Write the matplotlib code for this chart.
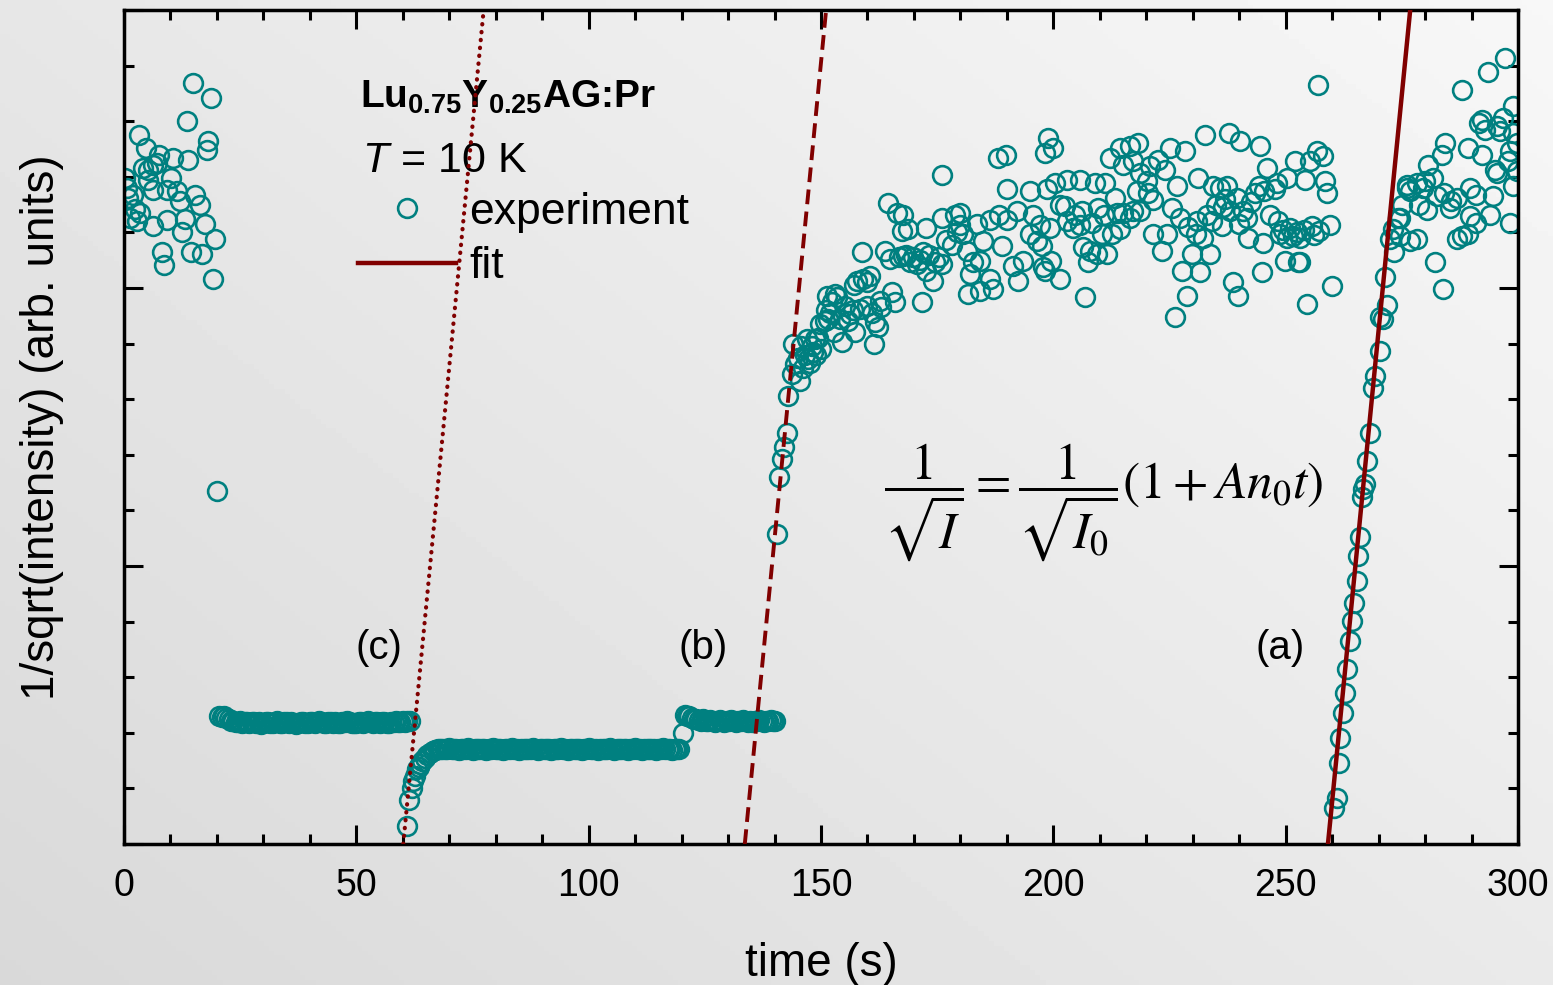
import numpy as np
import matplotlib.pyplot as plt
from matplotlib.lines import Line2D
from matplotlib.ticker import MultipleLocator

# ---------------- datos ----------------
# (c) antes de la serie: puntos dispersos t = 0..20 s
pre_c_t = [0.2, 0.6, 0.9, 1.3, 2.0, 2.4, 2.7, 3.3, 3.4, 4.0,
           4.7, 5.2, 5.2, 6.2, 6.3, 6.3, 7.2, 7.6, 8.1, 8.6,
           9.2, 9.2, 10.1, 10.6, 11.3, 12.1, 12.4, 13.1, 13.5, 13.8,
           14.4, 14.8, 15.3, 16.4, 16.7, 17.4, 17.8, 18.1, 18.7, 19.2,
           19.6, 20.0]
pre_c_y = [11.98, 11.80, 11.62, 11.26, 11.68, 11.42, 11.20, 12.76, 11.35, 12.16,
           12.51, 12.13, 11.95, 11.11, 12.22, 11.77, 12.25, 12.40, 10.64, 10.41,
           11.77, 11.22, 11.98, 12.34, 11.74, 11.56, 11.01, 11.24, 13.00, 12.30,
           10.64, 13.69, 11.68, 11.50, 10.62, 11.15, 12.49, 12.64, 13.42, 10.16,
           10.88, 6.35]

# (c) meseta
flat_c_t = [20.5, 21.0, 21.5, 22.0, 22.5, 23.0, 23.5, 24.0, 24.5, 25.0,
            25.5, 26.0, 26.5, 27.0, 27.5, 28.0, 28.5, 29.0, 29.5, 30.0,
            30.5, 31.0, 31.5, 32.0, 32.5, 33.0, 33.5, 34.0, 34.5, 35.0,
            35.5, 36.0, 36.5, 37.0, 37.5, 38.0, 38.5, 39.0, 39.5, 40.0,
            40.5, 41.0, 41.5, 42.0, 42.5, 43.0, 43.5, 44.0, 44.5, 45.0,
            45.5, 46.0, 46.5, 47.0, 47.5, 48.0, 48.5, 49.0, 49.5, 50.0,
            50.5, 51.0, 51.5, 52.0, 52.5, 53.0, 53.5, 54.0, 54.5, 55.0,
            55.5, 56.0, 56.5, 57.0, 57.5, 58.0, 58.5, 59.0, 59.5, 60.0,
            60.5, 61.0, 61.5]
flat_c_y = [2.30, 2.29, 2.30, 2.27, 2.25, 2.22, 2.21, 2.20, 2.19, 2.21,
            2.18, 2.20, 2.19, 2.17, 2.19, 2.20, 2.18, 2.19, 2.16, 2.18,
            2.20, 2.19, 2.18, 2.17, 2.19, 2.21, 2.18, 2.17, 2.19, 2.20,
            2.18, 2.19, 2.17, 2.16, 2.18, 2.20, 2.19, 2.18, 2.17, 2.19,
            2.20, 2.18, 2.19, 2.21, 2.19, 2.18, 2.17, 2.19, 2.20, 2.18,
            2.19, 2.18, 2.17, 2.19, 2.20, 2.21, 2.19, 2.18, 2.17, 2.18,
            2.19, 2.20, 2.18, 2.19, 2.21, 2.19, 2.18, 2.20, 2.19, 2.18,
            2.19, 2.20, 2.18, 2.17, 2.19, 2.20, 2.21, 2.19, 2.20, 2.21,
            2.20, 2.22, 2.21]

# (b) subida inicial y meseta baja
rise_b_t = [60.8, 61.4, 61.9, 62.3, 62.6, 63.0, 63.4, 63.7, 64.2, 64.8,
            65.3, 65.9, 66.5, 67.0, 67.6]
rise_b_y = [0.32, 0.79, 1.01, 1.13, 1.22, 1.34, 1.39, 1.43, 1.50, 1.55,
            1.60, 1.64, 1.67, 1.69, 1.70]

flat_b_t = [68.0, 68.5, 69.0, 69.5, 70.0, 70.5, 71.0, 71.5, 72.0, 72.5,
            73.0, 73.5, 74.0, 74.5, 75.0, 75.5, 76.0, 76.5, 77.0, 77.5,
            78.0, 78.5, 79.0, 79.5, 80.0, 80.5, 81.0, 81.5, 82.0, 82.5,
            83.0, 83.5, 84.0, 84.5, 85.0, 85.5, 86.0, 86.5, 87.0, 87.5,
            88.0, 88.5, 89.0, 89.5, 90.0, 90.5, 91.0, 91.5, 92.0, 92.5,
            93.0, 93.5, 94.0, 94.5, 95.0, 95.5, 96.0, 96.5, 97.0, 97.5,
            98.0, 98.5, 99.0, 99.5, 100.0, 100.5, 101.0, 101.5, 102.0, 102.5,
            103.0, 103.5, 104.0, 104.5, 105.0, 105.5, 106.0, 106.5, 107.0, 107.5,
            108.0, 108.5, 109.0, 109.5, 110.0, 110.5, 111.0, 111.5, 112.0, 112.5,
            113.0, 113.5, 114.0, 114.5, 115.0, 115.5, 116.0, 116.5, 117.0, 117.5,
            118.0, 118.5, 119.0, 119.5]
flat_b_y = [1.70, 1.71, 1.70, 1.71, 1.72, 1.70, 1.71, 1.70, 1.69, 1.71,
            1.70, 1.71, 1.72, 1.70, 1.69, 1.70, 1.71, 1.70, 1.71, 1.70,
            1.69, 1.70, 1.71, 1.72, 1.70, 1.71, 1.70, 1.69, 1.70, 1.71,
            1.70, 1.72, 1.71, 1.70, 1.69, 1.70, 1.71, 1.70, 1.70, 1.71,
            1.72, 1.70, 1.69, 1.70, 1.71, 1.70, 1.71, 1.70, 1.69, 1.70,
            1.71, 1.70, 1.72, 1.71, 1.70, 1.69, 1.70, 1.71, 1.70, 1.71,
            1.70, 1.69, 1.70, 1.71, 1.72, 1.70, 1.71, 1.70, 1.69, 1.70,
            1.71, 1.70, 1.71, 1.72, 1.70, 1.69, 1.70, 1.71, 1.70, 1.71,
            1.70, 1.69, 1.71, 1.70, 1.72, 1.71, 1.70, 1.69, 1.70, 1.71,
            1.70, 1.71, 1.70, 1.69, 1.70, 1.71, 1.72, 1.70, 1.71, 1.70,
            1.69, 1.70, 1.71, 1.70]

# (b) meseta alta
high_b_t = [120.3, 120.7, 121.2, 121.7, 122.2, 122.7, 123.2, 123.7, 124.2, 124.7,
            125.2, 125.7, 126.2, 126.7, 127.2, 127.7, 128.2, 128.7, 129.2, 129.7,
            130.2, 130.7, 131.2, 131.7, 132.2, 132.7, 133.2, 133.7, 134.2, 134.7,
            135.2, 135.7, 136.2, 136.7, 137.2, 137.7, 138.2, 138.7, 139.2, 139.7,
            140.1]
high_b_y = [2.00, 2.32, 2.31, 2.30, 2.27, 2.25, 2.24, 2.23, 2.22, 2.24,
            2.22, 2.21, 2.23, 2.22, 2.20, 2.22, 2.23, 2.21, 2.19, 2.22,
            2.21, 2.23, 2.22, 2.20, 2.21, 2.22, 2.23, 2.21, 2.20, 2.22,
            2.19, 2.21, 2.22, 2.23, 2.21, 2.20, 2.22, 2.21, 2.23, 2.22,
            2.21]

# (a) antes: subida rapida y zona ruidosa t = 140..260 s  (t, y)
noisy_a = [
    (140.5, 5.57), (141.0, 6.60), (141.5, 6.92), (142.0, 7.14), (142.6, 7.40),
    (143.0, 8.06), (143.7, 8.45), (144.0, 9.00), (144.4, 8.63), (145.5, 8.33),
    (145.0, 8.75), (145.8, 8.95), (146.2, 8.57), (146.5, 8.80), (146.9, 9.08),
    (147.2, 8.72), (147.6, 8.66), (148.0, 8.95), (148.3, 8.85), (148.7, 9.08),
    (149.0, 8.80), (149.4, 9.10), (149.8, 9.35), (150.1, 8.90), (150.8, 9.40),
    (151.0, 9.60), (151.2, 9.86), (151.6, 9.44), (152.0, 9.55), (152.3, 9.75),
    (152.7, 9.20), (153.0, 9.90), (153.4, 9.83), (154.0, 9.45), (154.5, 9.02),
    (155.2, 9.68), (155.8, 9.40), (156.2, 9.53), (156.8, 9.60), (157.0, 10.05),
    (157.3, 9.20), (157.7, 10.13), (158.4, 9.62), (158.8, 10.64), (159.1, 10.16),
    (159.8, 9.68), (160.0, 10.10), (160.5, 10.22), (161.0, 9.55), (161.3, 8.99),
    (161.6, 9.38), (162.2, 9.30), (162.7, 9.77), (163.0, 9.65), (163.8, 10.67),
    (164.5, 11.53), (164.8, 10.52), (165.2, 9.92), (165.9, 9.74), (166.3, 11.35),
    (166.8, 10.55), (167.4, 11.02), (167.7, 11.32), (167.7, 10.58), (168.3, 10.60),
    (168.8, 11.06), (169.2, 10.46), (169.8, 10.55), (170.6, 10.43), (171.2, 10.50),
    (171.7, 9.74), (172.0, 10.64), (172.7, 10.31), (172.7, 11.08), (173.3, 10.60),
    (174.2, 10.13), (174.5, 10.46), (175.3, 10.55), (176.0, 10.43), (176.0, 11.26),
    (176.0, 12.03), (177.0, 10.86), (178.1, 10.78), (178.8, 11.32), (179.2, 11.00),
    (179.9, 11.14), (180.0, 11.35), (180.6, 10.97), (181.4, 10.67), (181.7, 9.89),
    (182.1, 10.25), (182.8, 10.46), (183.5, 11.15), (184.2, 10.49), (184.2, 9.95),
    (184.9, 10.85), (186.4, 10.16), (186.4, 11.23), (187.1, 9.98), (188.1, 12.34),
    (188.2, 11.32), (188.9, 10.76), (189.9, 12.39), (190.0, 11.23), (190.0, 11.78),
    (191.4, 10.40), (192.1, 11.38), (192.5, 10.13), (193.5, 10.49), (195.0, 11.74),
    (195.0, 10.97), (195.7, 11.32), (196.4, 10.85), (197.8, 10.37), (198.9, 12.70),
    (200.0, 12.52), (198.2, 12.43), (212.2, 12.34), (214.3, 12.52), (216.5, 12.55),
    (218.3, 12.61), (215.1, 12.22), (217.2, 12.28), (220.8, 12.19), (222.6, 12.31),
    (224.0, 12.13), (225.1, 12.52), (228.3, 12.46), (232.6, 12.76), (237.7, 12.79),
    (240.2, 12.64), (244.5, 12.55), (245.9, 12.16), (252.0, 12.28), (255.2, 12.28),
    (256.7, 12.46), (258.1, 12.37), (218.6, 12.07), (220.1, 11.92), (217.9, 11.74),
    (220.4, 11.71), (221.5, 11.59), (218.6, 11.38), (217.2, 11.38), (216.5, 11.26),
    (213.3, 11.62), (211.1, 11.89), (209.0, 11.89), (205.7, 11.95), (202.9, 11.95),
    (200.4, 11.89), (198.6, 11.78), (201.4, 11.50), (202.5, 11.47), (204.7, 11.32),
    (206.1, 11.38), (209.7, 11.44), (210.8, 11.32), (213.6, 11.35), (215.1, 11.35),
    (202.9, 11.21), (204.3, 11.08), (205.7, 11.14), (208.3, 11.17), (210.4, 10.97),
    (212.6, 10.97), (214.3, 11.06), (197.1, 11.14), (199.3, 11.08), (197.5, 10.76),
    (199.6, 10.49), (198.2, 10.31), (201.4, 10.16), (206.4, 10.73), (207.9, 10.67),
    (209.3, 10.61), (211.5, 10.61), (207.5, 10.46), (206.8, 9.83), (221.5, 10.97),
    (223.3, 10.67), (224.4, 10.97), (225.5, 11.44), (227.3, 11.26), (226.6, 11.83),
    (229.0, 11.10), (231.0, 11.20), (231.2, 11.98), (234.4, 11.83), (235.0, 11.50),
    (235.8, 11.80), (236.5, 11.45), (237.0, 11.60), (237.3, 11.83), (239.5, 11.62),
    (238.0, 11.38), (240.0, 11.15), (240.9, 11.38), (241.6, 11.26), (242.5, 11.55),
    (243.5, 11.70), (244.2, 11.83), (245.3, 11.74), (248.1, 11.89), (247.7, 11.78),
    (250.2, 11.98), (254.2, 11.95), (258.5, 11.92), (258.8, 11.71), (233.0, 11.32),
    (234.1, 11.21), (236.2, 11.11), (230.8, 10.97), (232.3, 10.90), (233.7, 10.61),
    (231.5, 10.28), (229.8, 10.61), (227.6, 10.31), (228.8, 9.86), (226.2, 9.47),
    (238.7, 10.10), (239.8, 9.86), (242.0, 10.90), (245.2, 10.81), (246.6, 11.32),
    (248.4, 11.21), (248.8, 10.97), (249.5, 11.05), (250.2, 10.90), (251.0, 11.08),
    (251.6, 10.94), (252.5, 11.00), (253.1, 10.90), (254.0, 11.05), (255.6, 11.11),
    (256.0, 10.95), (257.1, 11.03), (259.6, 11.14), (249.9, 10.49), (252.7, 10.46),
    (244.9, 10.28), (254.5, 9.71), (259.9, 10.04), (257.0, 13.66), (253.1, 10.46),
]

# (a) subida rapida t = 260..272 s
rise_a = [
    (260.3, 0.65), (261.0, 0.83), (261.4, 1.46), (261.8, 1.91), (262.4, 2.36),
    (262.8, 2.72), (263.3, 3.14), (263.8, 3.65), (264.2, 4.01), (264.8, 4.34),
    (265.3, 4.73), (265.6, 5.18), (266.0, 5.52), (266.5, 6.25), (266.7, 6.38),
    (267.1, 6.47), (267.6, 6.89), (268.2, 7.40), (268.7, 8.21), (269.2, 8.42),
    (270.3, 8.87), (270.3, 9.47), (271.0, 9.44), (271.9, 9.69), (271.4, 10.19),
]

# (a) zona ruidosa t = 272..300 s
noisy_end = [
    (297.2, 14.13), (293.6, 13.89), (287.9, 13.57), (299.0, 13.27), (292.2, 13.03),
    (291.5, 12.97), (293.0, 12.85), (295.4, 12.91), (296.8, 13.06), (296.1, 12.82),
    (299.0, 12.79), (284.3, 12.61), (283.6, 12.40), (289.3, 12.52), (292.2, 12.40),
    (298.3, 12.46), (297.9, 12.28), (280.7, 12.22), (295.1, 12.13), (295.4, 12.07),
    (299.0, 11.83), (281.8, 11.98), (280.0, 11.92), (278.2, 11.89), (276.1, 11.86),
    (279.6, 11.80), (276.7, 11.74), (275.0, 11.50), (278.6, 11.50), (280.4, 11.41),
    (282.6, 11.65), (284.0, 11.71), (285.5, 11.56), (286.9, 11.62), (289.7, 11.80),
    (290.9, 11.68), (294.7, 11.65), (285.4, 11.44), (289.7, 11.29), (290.9, 11.17),
    (293.9, 11.32), (298.3, 11.17), (274.2, 11.26), (273.2, 11.06), (272.5, 10.88),
    (274.5, 10.94), (276.7, 10.85), (278.2, 10.88), (273.3, 10.64), (286.8, 10.88),
    (287.9, 10.94), (289.3, 10.97), (282.1, 10.46), (283.9, 9.98), (276.1, 11.80),
    (274.5, 11.26), (299.8, 12.60), (299.7, 12.10),
]

# rectas de ajuste: (t, y) en los extremos
fit_c_t, fit_c_y = [60.1, 77.4], [0.0, 15.0]
fit_b_t, fit_b_y = [133.6, 151.1], [0.0, 15.0]
fit_a_t, fit_a_y = [259.1, 276.8], [0.0, 15.0]

# ---------------- estilo ----------------
plt.rcParams['font.family'] = ['Liberation Sans', 'DejaVu Sans']
plt.rcParams['mathtext.fontset'] = 'custom'
plt.rcParams['mathtext.rm'] = 'Liberation Sans'
plt.rcParams['mathtext.it'] = 'Liberation Sans:italic'
plt.rcParams['mathtext.bf'] = 'Liberation Sans:bold'

teal = '#008080'
maroon = '#800000'

W, H = 1553, 985
fig = plt.figure(figsize=(W / 100, H / 100), dpi=100)

# fondo gris en degradado
bg = fig.add_axes([0, 0, 1, 1], zorder=-10)
gx, gy = np.meshgrid(np.linspace(0, 1, 300), np.linspace(0, 1, 200))
bg.imshow(0.85 + 0.12 * (0.55 * gx + 0.45 * gy), cmap='gray', vmin=0, vmax=1,
          origin='lower', extent=[0, 1, 0, 1], aspect='auto')
bg.axis('off')

ax = fig.add_axes([124 / W, 1 - 844 / H, (1518 - 124) / W, (844 - 10) / H])
ax.set_facecolor('none')

mk = dict(ls='none', marker='o', mfc='none', mec=teal, ms=13.5, mew=1.9)
ax.plot(pre_c_t, pre_c_y, **mk)
ax.plot(flat_c_t, flat_c_y, **mk)
ax.plot(rise_b_t, rise_b_y, **mk)
ax.plot(flat_b_t, flat_b_y, **mk)
ax.plot(high_b_t, high_b_y, **mk)
for seg in (noisy_a, rise_a, noisy_end):
    arr = np.array(seg)
    ax.plot(arr[:, 0], arr[:, 1], **mk)

ax.plot(fit_c_t, fit_c_y, color=maroon, lw=3.0, ls=(0, (0.1, 1.8)),
        dash_capstyle='round', zorder=4)
ax.plot(fit_b_t, fit_b_y, color=maroon, lw=2.8, ls=(0, (3.8, 1.9)), zorder=4)
ax.plot(fit_a_t, fit_a_y, color=maroon, lw=3.2, zorder=4)

ax.set_xlim(0, 300)
ax.set_ylim(0, 15)
ax.xaxis.set_major_locator(MultipleLocator(50))
ax.xaxis.set_minor_locator(MultipleLocator(10))
ax.yaxis.set_major_locator(MultipleLocator(5))
ax.yaxis.set_minor_locator(MultipleLocator(1))
ax.tick_params(which='both', direction='in', top=True, right=True, width=2.2,
               labelleft=False, labelsize=27, pad=17)
ax.tick_params(which='major', length=13.5)
ax.tick_params(which='minor', length=7)
for sp in ax.spines.values():
    sp.set_linewidth(2.5)

ax.set_xlabel('time (s)', fontsize=33)
ax.xaxis.set_label_coords(0.5, -0.118)
ax.set_ylabel('1/sqrt(intensity) (arb. units)', fontsize=33)
ax.yaxis.set_label_coords(-0.043, 0.5)

# textos
ax.text(50.8, 13.24, 'Lu$_{\\mathbf{0.75}}$Y$_{\\mathbf{0.25}}$AG:Pr',
        fontsize=28, fontweight='bold', ha='left', va='baseline')
ax.text(51.2, 12.09, '$T$ = 10 K', fontsize=31, ha='left', va='baseline')

for lab, tx in (('(c)', 54.9), ('(b)', 124.6), ('(a)', 248.8)):
    ax.text(tx, 3.53, lab, fontsize=29, ha='center', va='center')

ax.text(210.8, 6.15,
        r'$\dfrac{1}{\sqrt{I}} = \dfrac{1}{\sqrt{I_0}}\left(1 + An_{0}t\right)$',
        math_fontfamily='stix', fontsize=37, ha='center', va='center')

handles = [Line2D([], [], **mk), Line2D([], [], color=maroon, lw=3.2)]
ax.legend(handles, ['experiment', 'fit'], loc='upper left',
          bbox_to_anchor=((358 - 124) / 1394, (844 - 192) / 834),
          frameon=False, fontsize=32, handlelength=2.2, handletextpad=0.3,
          labelspacing=0.3, borderpad=0, borderaxespad=0)

fig.savefig('out.png', dpi=100)
